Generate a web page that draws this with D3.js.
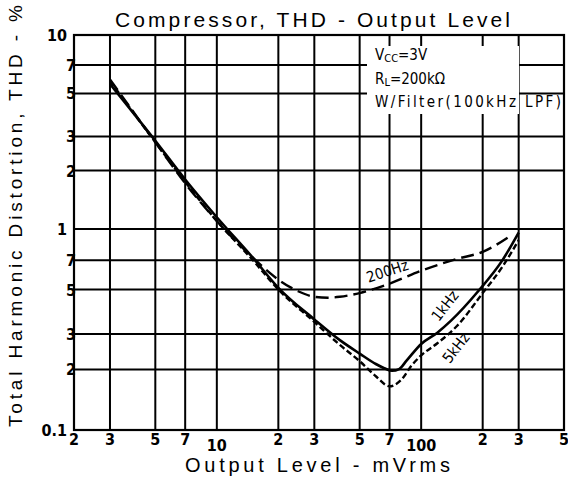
<!DOCTYPE html>
<html>
<head>
<meta charset="utf-8">
<script src="https://cdn.jsdelivr.net/npm/d3@7"></script>
<style>
  body { margin: 0; background: #fff; }
  text { font-family: "Liberation Sans", Arial, sans-serif; fill: #000; }
  .tick-lab { font-family: "Liberation Sans Narrow", "DejaVu Sans Condensed", sans-serif; font-weight: bold; font-size: 16px; }
  .note { font-family: "Liberation Sans Narrow", "DejaVu Sans Condensed", sans-serif; font-size: 15px; }
</style>
</head>
<body>
<div id="chart"></div>
<script>
// values
var x_ticks = [2, 3, 5, 7, 10, 20, 30, 50, 70, 100, 200, 300, 500];
var x_tick_labels = ["2", "3", "5", "7", "10", "2", "3", "5", "7", "100", "2", "3", "5"];
var y_ticks = [0.1, 0.2, 0.3, 0.5, 0.7, 1, 2, 3, 5, 7, 10];
var y_tick_labels = ["0.1", "2", "3", "5", "7", "1", "2", "3", "5", "7", "10"];

var x_1k = [3, 5, 7, 10, 15, 20, 30, 40, 50, 60, 66, 72, 78, 85, 100, 120, 140, 190, 250, 300];
var y_1k = [5.6, 2.85, 1.8, 1.15, 0.72, 0.51, 0.355, 0.28, 0.24, 0.213, 0.203, 0.197, 0.201, 0.222, 0.268, 0.305, 0.35, 0.49, 0.7, 0.96];

var x_5k = [3, 5, 7, 10, 15, 20, 30, 40, 50, 60, 70, 80, 90, 100, 120, 150, 200, 250, 300];
var y_5k = [5.8, 2.8, 1.75, 1.1, 0.7, 0.5, 0.345, 0.265, 0.22, 0.185, 0.165, 0.178, 0.21, 0.235, 0.27, 0.33, 0.48, 0.65, 0.88];

var x_200 = [3, 5, 7, 10, 15, 20, 25, 30, 35, 40, 50, 70, 100, 150, 200, 280];
var y_200 = [5.9, 2.8, 1.72, 1.1, 0.72, 0.56, 0.49, 0.46, 0.455, 0.46, 0.48, 0.535, 0.62, 0.71, 0.77, 0.94];

var W = 568, H = 479;
var plot_left = 74, plot_right = 564, plot_top = 35, plot_bottom = 430;

var svg = d3.select("#chart")
    .append("svg")
    .attr("width", W)
    .attr("height", H);

var xScale = d3.scaleLog()
    .domain([2, 500])
    .range([plot_left, plot_right]);

// the scan's lower decade is a bit taller than the upper one
var yScale = d3.scaleLog()
    .domain([0.1, 1, 10])
    .range([plot_bottom, 229, plot_top]);

// grid
svg.append("g")
    .selectAll("line")
    .data(x_ticks.slice(1, -1))
    .enter()
    .append("line")
    .attr("x1", function(d) { return xScale(d); })
    .attr("x2", function(d) { return xScale(d); })
    .attr("y1", plot_top)
    .attr("y2", plot_bottom)
    .attr("stroke", "#000")
    .attr("stroke-width", 2);

svg.append("g")
    .selectAll("line")
    .data(y_ticks.slice(1, -1))
    .enter()
    .append("line")
    .attr("x1", plot_left)
    .attr("x2", plot_right)
    .attr("y1", function(d) { return yScale(d); })
    .attr("y2", function(d) { return yScale(d); })
    .attr("stroke", "#000")
    .attr("stroke-width", 2);

// white patch behind the conditions text
svg.append("rect")
    .attr("x", 367)
    .attr("y", 46)
    .attr("width", 152)
    .attr("height", 68)
    .attr("fill", "#fff");

svg.append("rect")
    .attr("x", plot_left)
    .attr("y", plot_top)
    .attr("width", plot_right - plot_left)
    .attr("height", plot_bottom - plot_top)
    .attr("fill", "none")
    .attr("stroke", "#000")
    .attr("stroke-width", 2.2);

// tick labels
svg.append("g")
    .selectAll("text")
    .data(x_ticks)
    .enter()
    .append("text")
    .attr("class", "tick-lab")
    .attr("x", function(d) { return xScale(d); })
    .attr("y", function(d) { return (d == 10 || d == 100) ? 451 : 445; })
    .attr("text-anchor", "middle")
    .text(function(d, i) { return x_tick_labels[i]; });

svg.append("g")
    .selectAll("text")
    .data(y_ticks)
    .enter()
    .append("text")
    .attr("class", "tick-lab")
    .attr("x", function(d, i) { return y_tick_labels[i].length > 1 || d == 1 ? 67 : 71; })
    .attr("y", function(d) { return yScale(d) + 6; })
    .attr("text-anchor", function(d, i) { return y_tick_labels[i].length > 1 || d == 1 ? "end" : "middle"; })
    .text(function(d, i) { return y_tick_labels[i]; });

// curves
var line = d3.line()
    .x(function(d) { return xScale(d[0]); })
    .y(function(d) { return yScale(d[1]); })
    .curve(d3.curveMonotoneX);

function zip(xs, ys) {
    return xs.map(function(v, i) { return [v, ys[i]]; });
}

svg.append("path")
    .attr("d", line(zip(x_200, y_200)))
    .attr("fill", "none")
    .attr("stroke", "#000")
    .attr("stroke-width", 2.4)
    .attr("stroke-dasharray", "13,6");

svg.append("path")
    .attr("d", line(zip(x_5k, y_5k)))
    .attr("fill", "none")
    .attr("stroke", "#000")
    .attr("stroke-width", 2.4)
    .attr("stroke-dasharray", "6,3");

svg.append("path")
    .attr("d", line(zip(x_1k, y_1k)))
    .attr("fill", "none")
    .attr("stroke", "#000")
    .attr("stroke-width", 2.6);

// curve labels
svg.append("text")
    .attr("class", "note")
    .attr("transform", "translate(389,276) rotate(-18)")
    .attr("text-anchor", "middle")
    .text("200Hz");

svg.append("text")
    .attr("class", "note")
    .attr("transform", "translate(449,309) rotate(-52)")
    .attr("text-anchor", "middle")
    .text("1kHz");

svg.append("text")
    .attr("class", "note")
    .attr("transform", "translate(460,351) rotate(-52)")
    .attr("text-anchor", "middle")
    .text("5kHz");

// conditions
var c1 = svg.append("text").attr("class", "note").attr("x", 375).attr("y", 60);
c1.append("tspan").text("V");
c1.append("tspan").attr("font-size", "11px").attr("dy", 2).text("CC");
c1.append("tspan").attr("dy", -2).text("=3V");

var c2 = svg.append("text").attr("class", "note").attr("x", 375).attr("y", 84);
c2.append("tspan").text("R");
c2.append("tspan").attr("font-size", "11px").attr("dy", 2).text("L");
c2.append("tspan").attr("dy", -2).text("=200kΩ");

svg.append("text")
    .attr("class", "note")
    .attr("x", 375)
    .attr("y", 107)
    .attr("textLength", 186)
    .attr("lengthAdjust", "spacing")
    .text("W/Filter(100kHz LPF)");

// titles
svg.append("text")
    .attr("x", 115)
    .attr("y", 27)
    .attr("font-size", "21px")
    .attr("textLength", 395)
    .attr("lengthAdjust", "spacing")
    .text("Compressor, THD - Output Level");

svg.append("text")
    .attr("x", 185)
    .attr("y", 472)
    .attr("font-size", "20px")
    .attr("textLength", 265)
    .attr("lengthAdjust", "spacing")
    .text("Output Level - mVrms");

svg.append("text")
    .attr("transform", "translate(22,427) rotate(-90)")
    .attr("font-size", "19px")
    .attr("textLength", 422)
    .attr("lengthAdjust", "spacing")
    .text("Total Harmonic Distortion, THD - %");
</script>
</body>
</html>
